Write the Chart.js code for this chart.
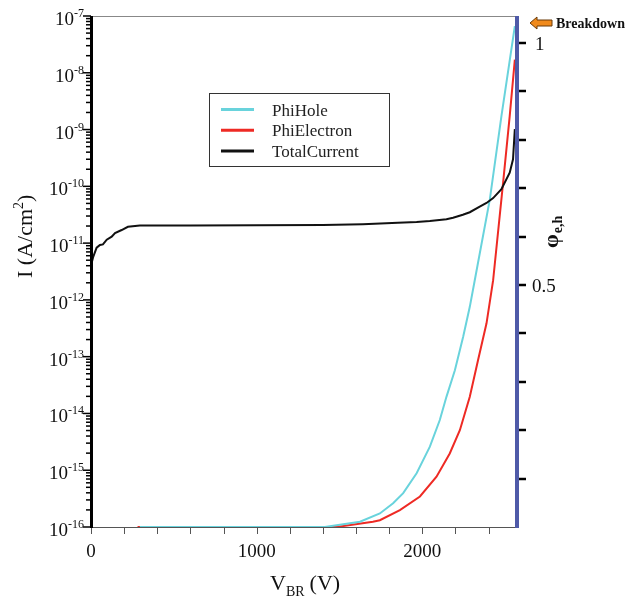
<!DOCTYPE html>
<html>
<head>
<meta charset="utf-8">
<script src="https://cdn.jsdelivr.net/npm/chart.js@4.4.0/dist/chart.umd.min.js"></script>
<style>
  body { margin: 0; background: #fff; }
  canvas { display: block; }
</style>
</head>
<body>
<canvas id="brChart" width="629" height="599"></canvas>
<script>
// Total current vs bias (left log axis)
const voltsTotal = [0, 4, 14, 34, 54, 72, 95, 125, 145, 185, 223, 295, 600, 1000, 1400, 1641, 1853, 1966, 2046, 2146, 2186, 2245, 2287, 2347, 2388, 2428, 2478, 2528, 2548, 2559];
const totalCurrent = [3.0e-12, 4.5e-12, 5.8e-12, 8.3e-12, 9.3e-12, 9.5e-12, 1.15e-11, 1.3e-11, 1.5e-11, 1.7e-11, 1.94e-11, 2.05e-11, 2.05e-11, 2.06e-11, 2.08e-11, 2.15e-11, 2.28e-11, 2.35e-11, 2.45e-11, 2.63e-11, 2.8e-11, 3.16e-11, 3.5e-11, 4.4e-11, 5.1e-11, 6.2e-11, 8.9e-11, 1.74e-10, 3.0e-10, 1.02e-9];

// Breakdown probabilities (right linear axis)
const voltsHole = [295, 800, 1412, 1624, 1744, 1824, 1885, 1966, 2046, 2106, 2146, 2197, 2247, 2287, 2317, 2408, 2478, 2559];
const phiHole = [0, 0, 0, 0.011, 0.028, 0.049, 0.070, 0.111, 0.166, 0.221, 0.269, 0.324, 0.393, 0.455, 0.510, 0.677, 0.849, 1.035];
const voltsElectron = [281, 800, 1483, 1702, 1744, 1865, 1986, 2086, 2166, 2227, 2287, 2337, 2388, 2428, 2488, 2528, 2559];
const phiElectron = [0, 0, 0, 0.011, 0.014, 0.035, 0.063, 0.104, 0.152, 0.200, 0.269, 0.345, 0.421, 0.510, 0.711, 0.849, 0.966];

// Axis ticks
const xTicks = [0, 200, 400, 600, 800, 1000, 1200, 1400, 1600, 1800, 2000, 2200, 2400];
const xLabels = [0, 1000, 2000];
const decades = [-16, -15, -14, -13, -12, -11, -10, -9, -8, -7];
const phiTicks = [0.1, 0.2, 0.3, 0.4, 0.5, 0.6, 0.7, 0.8, 0.9, 1.0];
const phiLabels = ['0.5', '1'];

const legendItems = ['PhiHole', 'PhiElectron', 'TotalCurrent'];
const colors = { hole: '#69d3dc', electron: '#ee2a24', total: '#111111', axisBlue: '#4f5aa8' };

const SERIF = '"Liberation Serif", "Times New Roman", serif';

function pairs(xs, ys) {
    return xs.map((v, i) => ({ x: v, y: ys[i] }));
}

// Axes, labels, legend and annotation drawn from the chart's scales
const axesPlugin = {
    id: 'axesPlugin',
    afterDraw(chart) {
        const { ctx, chartArea: a, scales } = chart;
        const x = scales.x, y = scales.y, y1 = scales.y1;
        ctx.save();

        // top border
        ctx.strokeStyle = '#888';
        ctx.lineWidth = 1;
        ctx.beginPath();
        ctx.moveTo(a.left, a.top + 0.5);
        ctx.lineTo(a.right, a.top + 0.5);
        ctx.stroke();

        // bottom axis
        ctx.strokeStyle = '#555';
        ctx.beginPath();
        ctx.moveTo(a.left, a.bottom + 0.5);
        ctx.lineTo(a.right, a.bottom + 0.5);
        ctx.stroke();
        xTicks.forEach(v => {
            const px = Math.round(x.getPixelForValue(v)) + 0.5;
            ctx.beginPath();
            ctx.moveTo(px, a.bottom);
            ctx.lineTo(px, a.bottom + 7);
            ctx.stroke();
        });
        ctx.fillStyle = '#111';
        ctx.font = '19px ' + SERIF;
        ctx.textAlign = 'center';
        ctx.textBaseline = 'alphabetic';
        xLabels.forEach(v => {
            ctx.fillText(String(v), x.getPixelForValue(v), 557);
        });

        // left log axis
        ctx.strokeStyle = '#000';
        ctx.lineWidth = 1.5;
        decades.forEach(e => {
            const major = y.getPixelForValue(Math.pow(10, e));
            ctx.beginPath();
            ctx.moveTo(a.left - 8, major);
            ctx.lineTo(a.left, major);
            ctx.stroke();
            if (e < -7) {
                for (let m = 2; m <= 9; m++) {
                    const py = y.getPixelForValue(m * Math.pow(10, e));
                    ctx.beginPath();
                    ctx.moveTo(a.left - 5, py);
                    ctx.lineTo(a.left, py);
                    ctx.stroke();
                }
            }
            // label 10^e
            ctx.fillStyle = '#111';
            ctx.textAlign = 'left';
            ctx.font = '12px ' + SERIF;
            const sup = String(e);
            const sw = ctx.measureText(sup).width;
            ctx.fillText(sup, 84 - sw, major + 1);
            ctx.font = '19px ' + SERIF;
            ctx.textAlign = 'right';
            ctx.fillText('10', 84 - sw, major + 9);
        });
        ctx.lineWidth = 3;
        ctx.beginPath();
        ctx.moveTo(a.left + 0.5, a.top);
        ctx.lineTo(a.left + 0.5, a.bottom + 1);
        ctx.stroke();

        // right phi axis
        ctx.strokeStyle = '#000';
        ctx.lineWidth = 2.5;
        phiTicks.forEach(v => {
            const py = Math.round(y1.getPixelForValue(v));
            ctx.beginPath();
            ctx.moveTo(a.right, py);
            ctx.lineTo(a.right + 10, py);
            ctx.stroke();
        });
        ctx.strokeStyle = colors.axisBlue;
        ctx.lineWidth = 4;
        ctx.beginPath();
        ctx.moveTo(a.right + 1, a.top);
        ctx.lineTo(a.right + 1, a.bottom + 1);
        ctx.stroke();
        ctx.fillStyle = '#111';
        ctx.font = '19px ' + SERIF;
        ctx.textAlign = 'left';
        phiLabels.forEach(t => {
            const py = y1.getPixelForValue(parseFloat(t));
            ctx.fillText(t, t === '1' ? 535 : 532, py + 6.5);
        });

        // y title: I (A/cm²)
        ctx.save();
        ctx.translate(32, 278);
        ctx.rotate(-Math.PI / 2);
        ctx.font = '22px ' + SERIF;
        ctx.textAlign = 'left';
        ctx.fillText('I (A/cm', 0, 0);
        let w = ctx.measureText('I (A/cm').width;
        ctx.font = '14px ' + SERIF;
        ctx.fillText('2', w, -9);
        w += ctx.measureText('2').width;
        ctx.font = '22px ' + SERIF;
        ctx.fillText(')', w, 0);
        ctx.restore();

        // x title: V_BR (V)
        ctx.font = '22px ' + SERIF;
        ctx.textAlign = 'left';
        let xt = 270;
        ctx.fillText('V', xt, 590);
        xt += ctx.measureText('V').width;
        ctx.font = '14px ' + SERIF;
        ctx.fillText('BR', xt, 596);
        xt += ctx.measureText('BR').width + 5;
        ctx.font = '22px ' + SERIF;
        ctx.fillText('(V)', xt, 590);

        // right title: phi e,h
        ctx.save();
        ctx.translate(558, 248);
        ctx.rotate(-Math.PI / 2);
        ctx.font = 'bold 22px ' + SERIF;
        ctx.fillText('φ', 0, 0);
        const pw = ctx.measureText('φ').width;
        ctx.font = 'bold 14px ' + SERIF;
        ctx.fillText('e,h', pw + 1, 4);
        ctx.restore();

        // legend
        ctx.strokeStyle = '#333';
        ctx.lineWidth = 1;
        ctx.strokeRect(209.5, 93.5, 180, 73);
        const legendColors = [colors.hole, colors.electron, colors.total];
        legendItems.forEach((name, i) => {
            const ly = 109.5 + i * 20.7;
            ctx.strokeStyle = legendColors[i];
            ctx.lineWidth = 3;
            ctx.beginPath();
            ctx.moveTo(221, ly);
            ctx.lineTo(254, ly);
            ctx.stroke();
            ctx.fillStyle = '#222';
            ctx.font = '17px ' + SERIF;
            ctx.fillText(name, 272, ly + 6);
        });

        // breakdown marker
        const by = 23;
        ctx.fillStyle = '#f08a1c';
        ctx.strokeStyle = '#6b3a08';
        ctx.lineWidth = 1;
        ctx.beginPath();
        ctx.moveTo(530, by);
        ctx.lineTo(537, by - 6);
        ctx.lineTo(537, by - 3);
        ctx.lineTo(552, by - 3);
        ctx.lineTo(552, by + 3);
        ctx.lineTo(537, by + 3);
        ctx.lineTo(537, by + 6);
        ctx.closePath();
        ctx.fill();
        ctx.stroke();
        ctx.fillStyle = '#111';
        ctx.font = 'bold 14px ' + SERIF;
        ctx.fillText('Breakdown', 556, 28);

        ctx.restore();
    }
};

const chart = new Chart(document.getElementById('brChart').getContext('2d'), {
    type: 'line',
    data: {
        datasets: [
            {
                label: 'TotalCurrent',
                data: pairs(voltsTotal, totalCurrent),
                yAxisID: 'y',
                borderColor: colors.total,
                borderWidth: 2,
                pointRadius: 0,
                tension: 0,
                order: 0,
                clip: 4
            },
            {
                label: 'PhiHole',
                data: pairs(voltsHole, phiHole),
                yAxisID: 'y1',
                borderColor: colors.hole,
                borderWidth: 2,
                pointRadius: 0,
                tension: 0,
                order: 1,
                clip: 4
            },
            {
                label: 'PhiElectron',
                data: pairs(voltsElectron, phiElectron),
                yAxisID: 'y1',
                borderColor: colors.electron,
                borderWidth: 2,
                pointRadius: 0,
                tension: 0,
                order: 2,
                clip: 4
            }
        ]
    },
    options: {
        responsive: false,
        animation: false,
        devicePixelRatio: 1,
        layout: { padding: { left: 91, right: 113, top: 16, bottom: 72 } },
        plugins: { legend: { display: false }, tooltip: { enabled: false } },
        scales: {
            x: { type: 'linear', min: 0, max: 2566, display: false },
            y: { type: 'logarithmic', min: 1e-16, max: 1e-7, display: false },
            y1: { type: 'linear', min: 0, max: 1.056, display: false }
        }
    },
    plugins: [axesPlugin]
});
</script>
</body>
</html>
